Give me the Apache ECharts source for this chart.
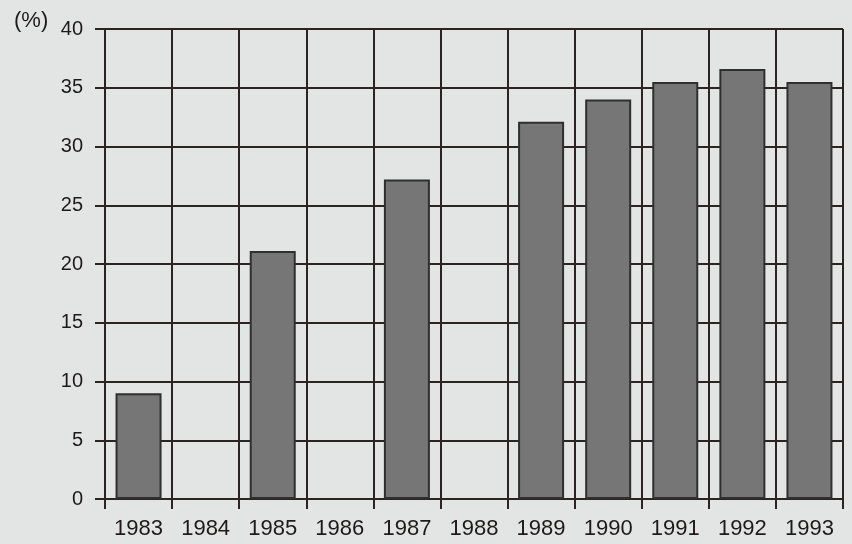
<!DOCTYPE html>
<html>
<head>
<meta charset="utf-8">
<script src="https://cdn.jsdelivr.net/npm/echarts@6/dist/echarts.min.js"></script>
<style>
html,body{margin:0;padding:0;background:#e3e5e4;}
#chart{width:852px;height:544px;}
</style>
</head>
<body>
<div id="chart"></div>
<script>
const years = ['1983','1984','1985','1986','1987','1988','1989','1990','1991','1992','1993'];
const shares = [9, '-', 21.1, '-', 27.2, '-', 32.1, 34, 35.5, 36.6, 35.5];
const yTicks = {min: 0, max: 40, interval: 5};
const unitLabel = '(%)';

const chart = echarts.init(document.getElementById('chart'));
const lineCol = '#2b2422';
const font = '"Liberation Sans", Arial, sans-serif';
chart.setOption({
  backgroundColor: '#e3e5e4',
  animation: false,
  grid: {left: 105, right: 9, top: 29, bottom: 45},
  graphic: [{
    type: 'text', left: 14, top: 10,
    style: {text: unitLabel, font: '22px ' + font, fill: '#1e1a1a'}
  }],
  xAxis: {
    type: 'category',
    data: years,
    boundaryGap: true,
    axisLine: {show: true, lineStyle: {color: lineCol, width: 2}},
    axisTick: {show: true, length: 10, lineStyle: {color: lineCol, width: 2}},
    splitLine: {show: true, lineStyle: {color: lineCol, width: 2}},
    axisLabel: {color: '#1e1a1a', fontSize: 22, fontFamily: font, margin: 19}
  },
  yAxis: {
    type: 'value',
    min: yTicks.min, max: yTicks.max, interval: yTicks.interval,
    axisLine: {show: true, lineStyle: {color: lineCol, width: 2}},
    axisTick: {show: true, length: 10, lineStyle: {color: lineCol, width: 2}},
    splitLine: {show: true, lineStyle: {color: lineCol, width: 2}},
    axisLabel: {color: '#1e1a1a', fontSize: 20, fontFamily: font, margin: 22, padding: [0, 0, 6, 0]}
  },
  series: [{
    type: 'bar',
    data: shares,
    barWidth: 46,
    itemStyle: {color: '#767676', borderColor: '#2f2f2f', borderWidth: 2},
    z: 3
  }]
});
</script>
</body>
</html>
